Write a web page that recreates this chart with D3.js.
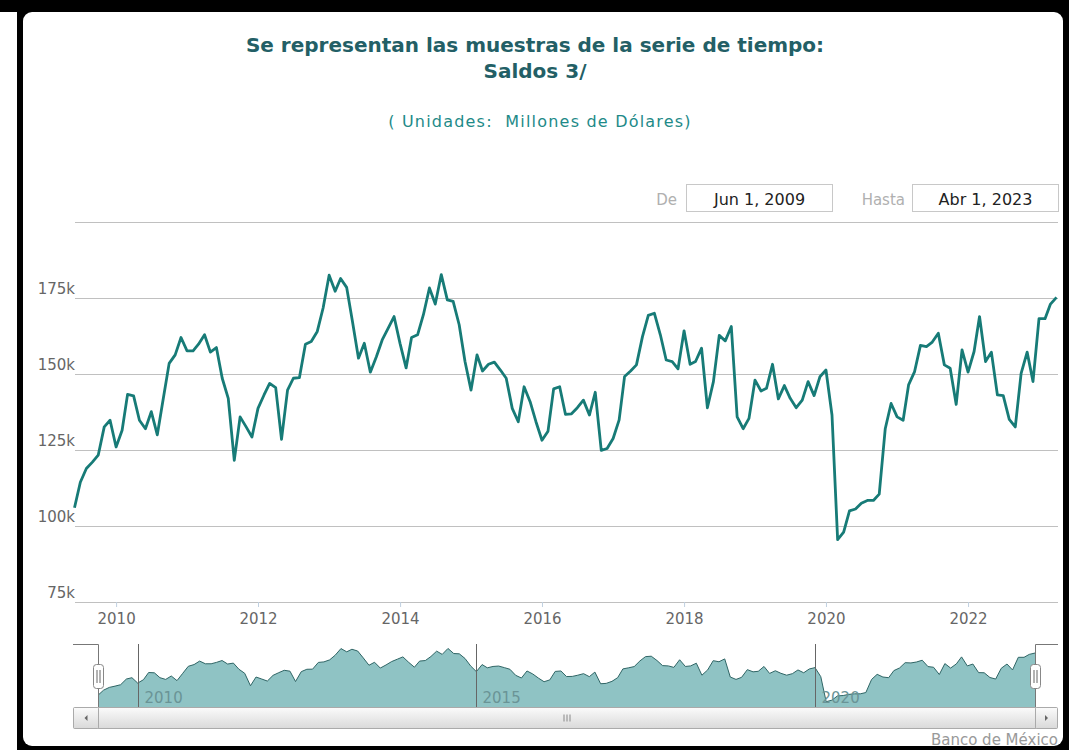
<!DOCTYPE html>
<html>
<head>
<meta charset="utf-8">
<script src="https://cdn.jsdelivr.net/npm/d3@7"></script>
<style>
  body { margin: 0; background: #fff; }
  svg { display: block; font-family: "DejaVu Sans", Verdana, sans-serif; }
</style>
</head>
<body>
<svg id="chart" width="1069" height="750"></svg>
<script>
// serie mensual, jun 2009 - abr 2023 (millones de dolares)
const startMonth = "2009-06-01";
const endMonth = "2023-04-01";
const saldos = [
  106000, 114400, 118900, 121000, 123300, 132600, 134800, 126000, 131500, 143300, 142800, 134800,
  132000, 137600, 130000, 142000, 153500, 156300, 162000, 157600, 157600, 159800, 162900, 157200,
  158700, 148600, 142000, 121600, 135900, 132600, 129300, 138700, 143100, 146900, 145500, 128500,
  144700, 148600, 148800, 159800, 160700, 164000, 171700, 182500, 177200, 181400, 178500, 167300,
  155200, 160100, 150600, 155700, 161200, 165100, 168900, 160000, 152000, 162000, 162900, 169500,
  178300, 173000, 182700, 174400, 173900, 166200, 154100, 144700, 156300, 151000, 153200, 153900,
  151300, 148600, 138700, 134300, 145800, 140900, 134300, 128200, 131200, 145100, 145800, 136700,
  136900, 138900, 141400, 136500, 144000, 124900, 125500, 128800, 134900, 149200, 151000, 153000,
  162300, 169300, 170000, 162900, 154600, 154100, 151700, 164200, 153200, 154100, 158500, 138900,
  147500, 162700, 160900, 165600, 135900, 132000, 135400, 148000, 144400, 145300, 153200, 141800,
  146200, 142000, 138900, 141400, 147500, 142900, 149100, 151300, 136500, 95500, 98000, 105000,
  105600, 107500, 108400, 108400, 110500, 132000, 140300, 135900, 134800, 146400, 150800, 159400,
  159000, 160500, 163400, 153000, 151900, 140000, 157900, 150600, 157400, 168900, 154100, 157200,
  143100, 142900, 135100, 132600, 150200, 157200, 147500, 168200, 168200, 173000, 175200
];
const yTicks = [75000, 100000, 125000, 150000, 175000, 200000];
const yTickLabels = ["75k", "100k", "125k", "150k", "175k", ""];
const xTickYears = [2010, 2012, 2014, 2016, 2018, 2020, 2022];
const navYears = [2010, 2015, 2020];
const titleLines = ["Se representan las muestras de la serie de tiempo:", "Saldos 3/"];
const subtitle = "( Unidades:  Millones de Dólares)";
const rangeFrom = "Jun 1, 2009";
const rangeTo = "Abr 1, 2023";
const credits = "Banco de México";

const parse = d3.timeParse("%Y-%m-%d");
const months = d3.timeMonth.range(parse(startMonth), d3.timeMonth.offset(parse(endMonth), 1));
const data = months.map((d, i) => ({ date: d, value: saldos[i] }));

const svg = d3.select("#chart");

// marco negro + caja blanca redondeada
svg.append("rect").attr("x", 17).attr("y", 0).attr("width", 1052).attr("height", 750).attr("fill", "#000");
svg.append("rect").attr("x", 0).attr("y", 0).attr("width", 1069).attr("height", 12).attr("fill", "#000");
svg.append("rect").attr("x", 23).attr("y", 12).attr("width", 1040).attr("height", 734)
  .attr("rx", 9).attr("fill", "#fff");

// titulos
svg.selectAll(".title").data(titleLines).enter().append("text")
  .attr("x", 535).attr("y", (d, i) => 52 + i * 26)
  .attr("text-anchor", "middle")
  .style("font-size", "20px").style("font-weight", "bold").style("fill", "#235f66")
  .text(d => d);
svg.append("text").attr("x", 540).attr("y", 127).attr("text-anchor", "middle")
  .style("white-space", "pre").style("letter-spacing", "1.2px")
  .style("font-size", "16px").style("fill", "#1e8a88").text(subtitle);

// selector de rango
function inputBox(label, labelX, boxX, txt) {
  svg.append("text").attr("x", labelX).attr("y", 205).attr("text-anchor", "end")
    .style("font-size", "15px").style("fill", "#b0b0b0").text(label);
  svg.append("rect").attr("x", boxX).attr("y", 184.5).attr("width", 146).attr("height", 27)
    .attr("fill", "#fff").attr("stroke", "#c8c8c8");
  svg.append("text").attr("x", boxX + 73).attr("y", 205).attr("text-anchor", "middle")
    .style("font-size", "16px").style("fill", "#222").text(txt);
}
inputBox("De", 677, 686.5, rangeFrom);
inputBox("Hasta", 905, 912.5, rangeTo);

// escalas principales
const x = d3.scaleTime().domain([data[0].date, data[data.length - 1].date]).range([74.5, 1056.5]);
const y = d3.scaleLinear().domain([75000, 200000]).range([602, 222]);

const grid = svg.append("g");
grid.selectAll("line").data(yTicks).enter().append("line")
  .attr("x1", 75).attr("x2", 1058)
  .attr("y1", d => Math.round(y(d)) + 0.5).attr("y2", d => Math.round(y(d)) + 0.5)
  .attr("stroke", "#c0c0c0");

grid.selectAll("text").data(yTicks).enter().append("text")
  .attr("x", 75).attr("y", d => y(d) - 4).attr("text-anchor", "end")
  .style("font-size", "15px").style("fill", "#666")
  .text((d, i) => yTickLabels[i]);

const xAxis = d3.axisBottom(x)
  .tickValues(xTickYears.map(yr => new Date(yr, 0, 1)))
  .tickFormat(d3.timeFormat("%Y"))
  .tickSize(5).tickPadding(6);
const xg = svg.append("g").attr("transform", "translate(0,602)").call(xAxis);
xg.select(".domain").remove();
xg.selectAll(".tick line").attr("stroke", "#c0d0e0");
xg.selectAll(".tick text").style("font-size", "15px").style("fill", "#666")
  .style("font-family", "\"DejaVu Sans\", Verdana, sans-serif");

const line = d3.line().x(d => x(d.date)).y(d => y(d.value));
svg.append("path").datum(data)
  .attr("d", line)
  .attr("fill", "none").attr("stroke", "#177b77").attr("stroke-width", 2.8)
  .attr("stroke-linejoin", "round");

// navegador
const navTop = 644, navBottom = 707, navLeft = 98, navRight = 1035;
const nx = d3.scaleTime().domain(x.domain()).range([navLeft, navRight]);
const ny = d3.scaleLinear().domain([86800, 190000]).range([navBottom, navTop]);

const area = d3.area().x(d => nx(d.date)).y0(navBottom).y1(d => ny(d.value));
svg.append("path").datum(data).attr("d", area).attr("fill", "#8fc3c4");
svg.append("path").datum(data).attr("d", d3.line().x(d => nx(d.date)).y(d => ny(d.value)))
  .attr("fill", "none").attr("stroke", "#2f6565").attr("stroke-width", 1);

const navYearG = svg.append("g");
navYears.forEach(yr => {
  const px = Math.round(nx(new Date(yr, 0, 1))) + 0.5;
  navYearG.append("line").attr("x1", px).attr("x2", px).attr("y1", navTop).attr("y2", navBottom)
    .attr("stroke", "#666");
  navYearG.append("text").attr("x", px + 6).attr("y", 703)
    .style("font-size", "15px").style("fill", "#6a9496").text(yr);
});

// contorno del navegador
svg.append("path")
  .attr("d", `M73,${navTop + 0.5}H${navLeft + 0.5}V${navBottom + 0.5}H${navRight + 0.5}V${navTop + 0.5}H1058`)
  .attr("fill", "none").attr("stroke", "#777");

// barra de desplazamiento
const sbTop = 707.5, sbH = 21;
const grad = svg.append("defs").append("linearGradient").attr("id", "sbg")
  .attr("x1", 0).attr("y1", 0).attr("x2", 0).attr("y2", 1);
grad.append("stop").attr("offset", "0").attr("stop-color", "#fbfbfb");
grad.append("stop").attr("offset", "1").attr("stop-color", "#d9d9d9");
svg.append("rect").attr("x", 73.5).attr("y", sbTop).attr("width", 984).attr("height", sbH)
  .attr("fill", "#eee").attr("stroke", "#bbb").attr("rx", 2);
svg.append("rect").attr("x", navLeft + 0.5).attr("y", sbTop).attr("width", navRight - navLeft).attr("height", sbH)
  .attr("fill", "url(#sbg)").attr("stroke", "#aaa");
[[73.5, navLeft + 0.5], [navRight + 0.5, 1057.5]].forEach(([a, b], k) => {
  svg.append("rect").attr("x", a).attr("y", sbTop).attr("width", b - a).attr("height", sbH)
    .attr("fill", "url(#sbg)").attr("stroke", "#aaa").attr("rx", 1);
  const cx = (a + b) / 2, cy = sbTop + sbH / 2;
  const pts = k === 0 ? [[cx + 1.5, cy - 3], [cx + 1.5, cy + 3], [cx - 1.5, cy]]
                      : [[cx - 1.5, cy - 3], [cx - 1.5, cy + 3], [cx + 1.5, cy]];
  svg.append("path").attr("d", "M" + pts.join("L") + "Z").attr("fill", "#666");
});
const gripX = (navLeft + navRight) / 2;
[-3, 0, 3].forEach(o => {
  svg.append("line").attr("x1", gripX + o + 0.5).attr("x2", gripX + o + 0.5)
    .attr("y1", sbTop + 7).attr("y2", sbTop + sbH - 7).attr("stroke", "#888");
});

// manijas
[navLeft, navRight].forEach(hx => {
  svg.append("rect").attr("x", hx - 4.5).attr("y", 664.5).attr("width", 10).attr("height", 24)
    .attr("rx", 3).attr("fill", "#fff").attr("stroke", "#888");
  [-1.5, 1.5].forEach(o => {
    svg.append("line").attr("x1", hx + o + 0.5).attr("x2", hx + o + 0.5)
      .attr("y1", 670).attr("y2", 683).attr("stroke", "#666");
  });
});

svg.append("text").attr("x", 1058).attr("y", 745).attr("text-anchor", "end")
  .style("font-size", "15px").style("fill", "#999").text(credits);
</script>
</body>
</html>
